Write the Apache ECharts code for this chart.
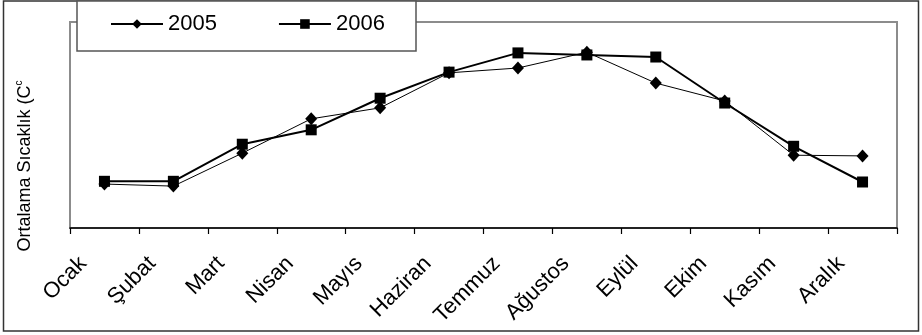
<!DOCTYPE html>
<html>
<head>
<meta charset="utf-8">
<script src="https://cdn.jsdelivr.net/npm/echarts@6/dist/echarts.min.js"></script>
<style>
  html, body { margin: 0; padding: 0; background: #fff; }
  #chart { width: 922px; height: 335px; }
</style>
</head>
<body>
<div id="chart"></div>
<script>
// Monthly average temperatures (°C), two years
const months = ['Ocak', 'Şubat', 'Mart', 'Nisan', 'Mayıs', 'Haziran',
                'Temmuz', 'Ağustos', 'Eylül', 'Ekim', 'Kasım', 'Aralık'];
const temps2005 = [6.4, 6.1, 10.9, 15.9, 17.5, 22.6, 23.3, 25.6, 21.1, 18.5, 10.6, 10.5];
const temps2006 = [6.8, 6.8, 12.2, 14.3, 18.9, 22.7, 25.5, 25.2, 24.9, 18.2, 11.9, 6.7];
const seriesNames = ['2005', '2006'];

const FONT = '"Liberation Sans", Arial, sans-serif';
const chart = echarts.init(document.getElementById('chart'), null, { renderer: 'canvas' });

chart.setOption({
  animation: false,
  backgroundColor: '#ffffff',
  textStyle: { fontFamily: FONT, color: '#000' },
  grid: {
    left: 70, right: 25, top: 22, bottom: 107,
    show: true, borderColor: '#8c8c8c', borderWidth: 2, backgroundColor: 'transparent'
  },
  graphic: [
    {
      type: 'rect', z: 0, silent: true,
      shape: { x: 3.5, y: 1, width: 915, height: 330 },
      style: { fill: 'transparent', stroke: '#333', lineWidth: 1.5 }
    },
    {
      type: 'rect', z: 50, silent: true,
      shape: { x: 77, y: 1, width: 339, height: 50 },
      style: { fill: '#fff', stroke: '#555', lineWidth: 1.5 }
    }
  ],
  legend: {
    z: 60,
    left: 110, top: 13,
    padding: 0,
    itemWidth: 52, itemHeight: 12, itemGap: 61,
    textStyle: { fontFamily: FONT, fontSize: 22, color: '#000', width: 52 },
    data: seriesNames
  },
  xAxis: {
    type: 'category',
    data: months,
    boundaryGap: true,
    axisLine: { lineStyle: { color: '#000', width: 1.5 } },
    axisTick: { show: true, length: 6, inside: false, interval: 0, lineStyle: { color: '#000', width: 1.2 } },
    axisLabel: {
      interval: 0, rotate: 45, margin: 11,
      fontFamily: FONT, fontSize: 22, color: '#000',
      padding: [0, 30, 0, 0]
    },
    splitLine: { show: false }
  },
  yAxis: {
    type: 'value', min: 0, max: 30, interval: 5,
    axisLine: { show: false },
    axisTick: { show: false },
    axisLabel: { show: false },
    splitLine: { show: false },
    name: '{a|Ortalama Sıcaklık (C}{b|c}',
    nameLocation: 'middle',
    nameGap: 34,
    nameTextStyle: {
      padding: [0, 82, 0, 0],
      rich: {
        a: { fontFamily: FONT, fontSize: 18, color: '#000' },
        b: { fontFamily: FONT, fontSize: 10, color: '#000', padding: [0, 0, 12, 0] }
      }
    }
  },
  series: [
    {
      name: seriesNames[0], type: 'line', data: temps2005,
      symbol: 'diamond', symbolSize: [12, 13],
      lineStyle: { color: '#000', width: 1 },
      itemStyle: { color: '#000' },
      z: 3
    },
    {
      name: seriesNames[1], type: 'line', data: temps2006,
      symbol: 'rect', symbolSize: 11,
      lineStyle: { color: '#000', width: 2 },
      itemStyle: { color: '#000' },
      z: 2
    }
  ]
});
</script>
</body>
</html>
